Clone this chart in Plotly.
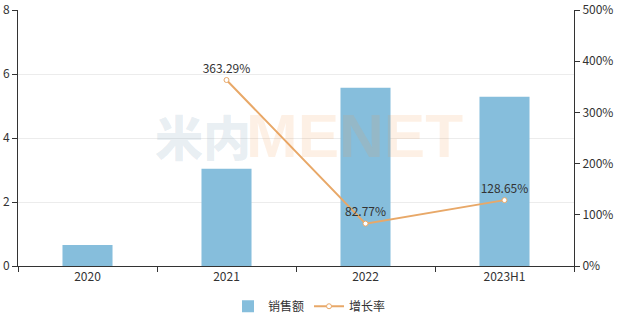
import plotly.graph_objects as go

# Sales (left axis) and year-on-year growth (right axis, %)
categories = ["2020", "2021", "2022", "2023H1"]
sales = [0.66, 3.04, 5.57, 5.29]
growth_cats = ["2021", "2022", "2023H1"]
growth = [363.29, 82.77, 128.65]
growth_labels = ["363.29%", "82.77%", "128.65%"]
left_ticks = [0, 2, 4, 6, 8]
right_ticks = [0, 100, 200, 300, 400, 500]
right_tick_text = ["0%", "100%", "200%", "300%", "400%", "500%"]

BAR = "#86bedc"
LINE = "#e8a868"
AXIS = "#333333"
FONT = "Noto Sans CJK SC"

fig = go.Figure()
fig.add_trace(go.Bar(
    x=categories, y=sales, name="销售额", width=0.36,
    marker=dict(color=BAR, line=dict(width=0)),
    yaxis="y",
))
fig.add_trace(go.Scatter(
    x=growth_cats, y=growth, name="增长率", yaxis="y2",
    mode="lines+markers+text",
    line=dict(color=LINE, width=2),
    marker=dict(symbol="circle", size=5, color="white",
                line=dict(color=LINE, width=1)),
    text=growth_labels, textposition="top center",
    textfont=dict(size=12, color="#333333", family=FONT),
))

# Brand watermark across the middle of the plot
fig.add_annotation(text="米内", xref="paper", yref="paper",
                   x=0.333, y=0.51, xanchor="center", yanchor="middle",
                   showarrow=False,
                   font=dict(size=48, family=FONT, weight=900,
                             color="rgba(120,155,180,0.18)"))
fig.add_annotation(text="MENET", xref="paper", yref="paper",
                   x=0.606, y=0.51, xanchor="center", yanchor="middle",
                   showarrow=False,
                   font=dict(size=62, family="Liberation Sans", weight="bold",
                             color="rgba(240,150,70,0.14)"))

fig.update_layout(
    width=619, height=324,
    margin=dict(l=18, r=45, t=10, b=58, autoexpand=False),
    paper_bgcolor="white", plot_bgcolor="white",
    font=dict(family=FONT, size=12, color=AXIS),
    showlegend=True,
    legend=dict(orientation="h", xref="container", x=0.5, xanchor="center",
                yref="container", y=0.01, yanchor="bottom",
                font=dict(size=12, color=AXIS, family=FONT),
                itemwidth=30),
    xaxis=dict(
        type="category", categoryorder="array", categoryarray=categories,
        showline=True, linecolor=AXIS, linewidth=1,
        ticks="outside", ticklen=5, tickcolor=AXIS, tickson="boundaries",
        showgrid=False, tickfont=dict(size=12, color=AXIS), automargin=False,
    ),
    yaxis=dict(
        range=[0, 8], tickvals=left_ticks,
        showline=True, linecolor=AXIS, linewidth=1,
        ticks="outside", ticklen=5, tickcolor=AXIS,
        showgrid=True, gridcolor="#ececec", gridwidth=1,
        zeroline=False, tickfont=dict(size=12, color=AXIS), automargin=False,
    ),
    yaxis2=dict(
        range=[0, 500], tickvals=right_ticks, ticktext=right_tick_text,
        overlaying="y", side="right",
        showline=True, linecolor=AXIS, linewidth=1,
        ticks="outside", ticklen=5, tickcolor=AXIS,
        showgrid=False, zeroline=False, tickfont=dict(size=12, color=AXIS),
        automargin=False,
    ),
)

fig.write_html("out.html")
